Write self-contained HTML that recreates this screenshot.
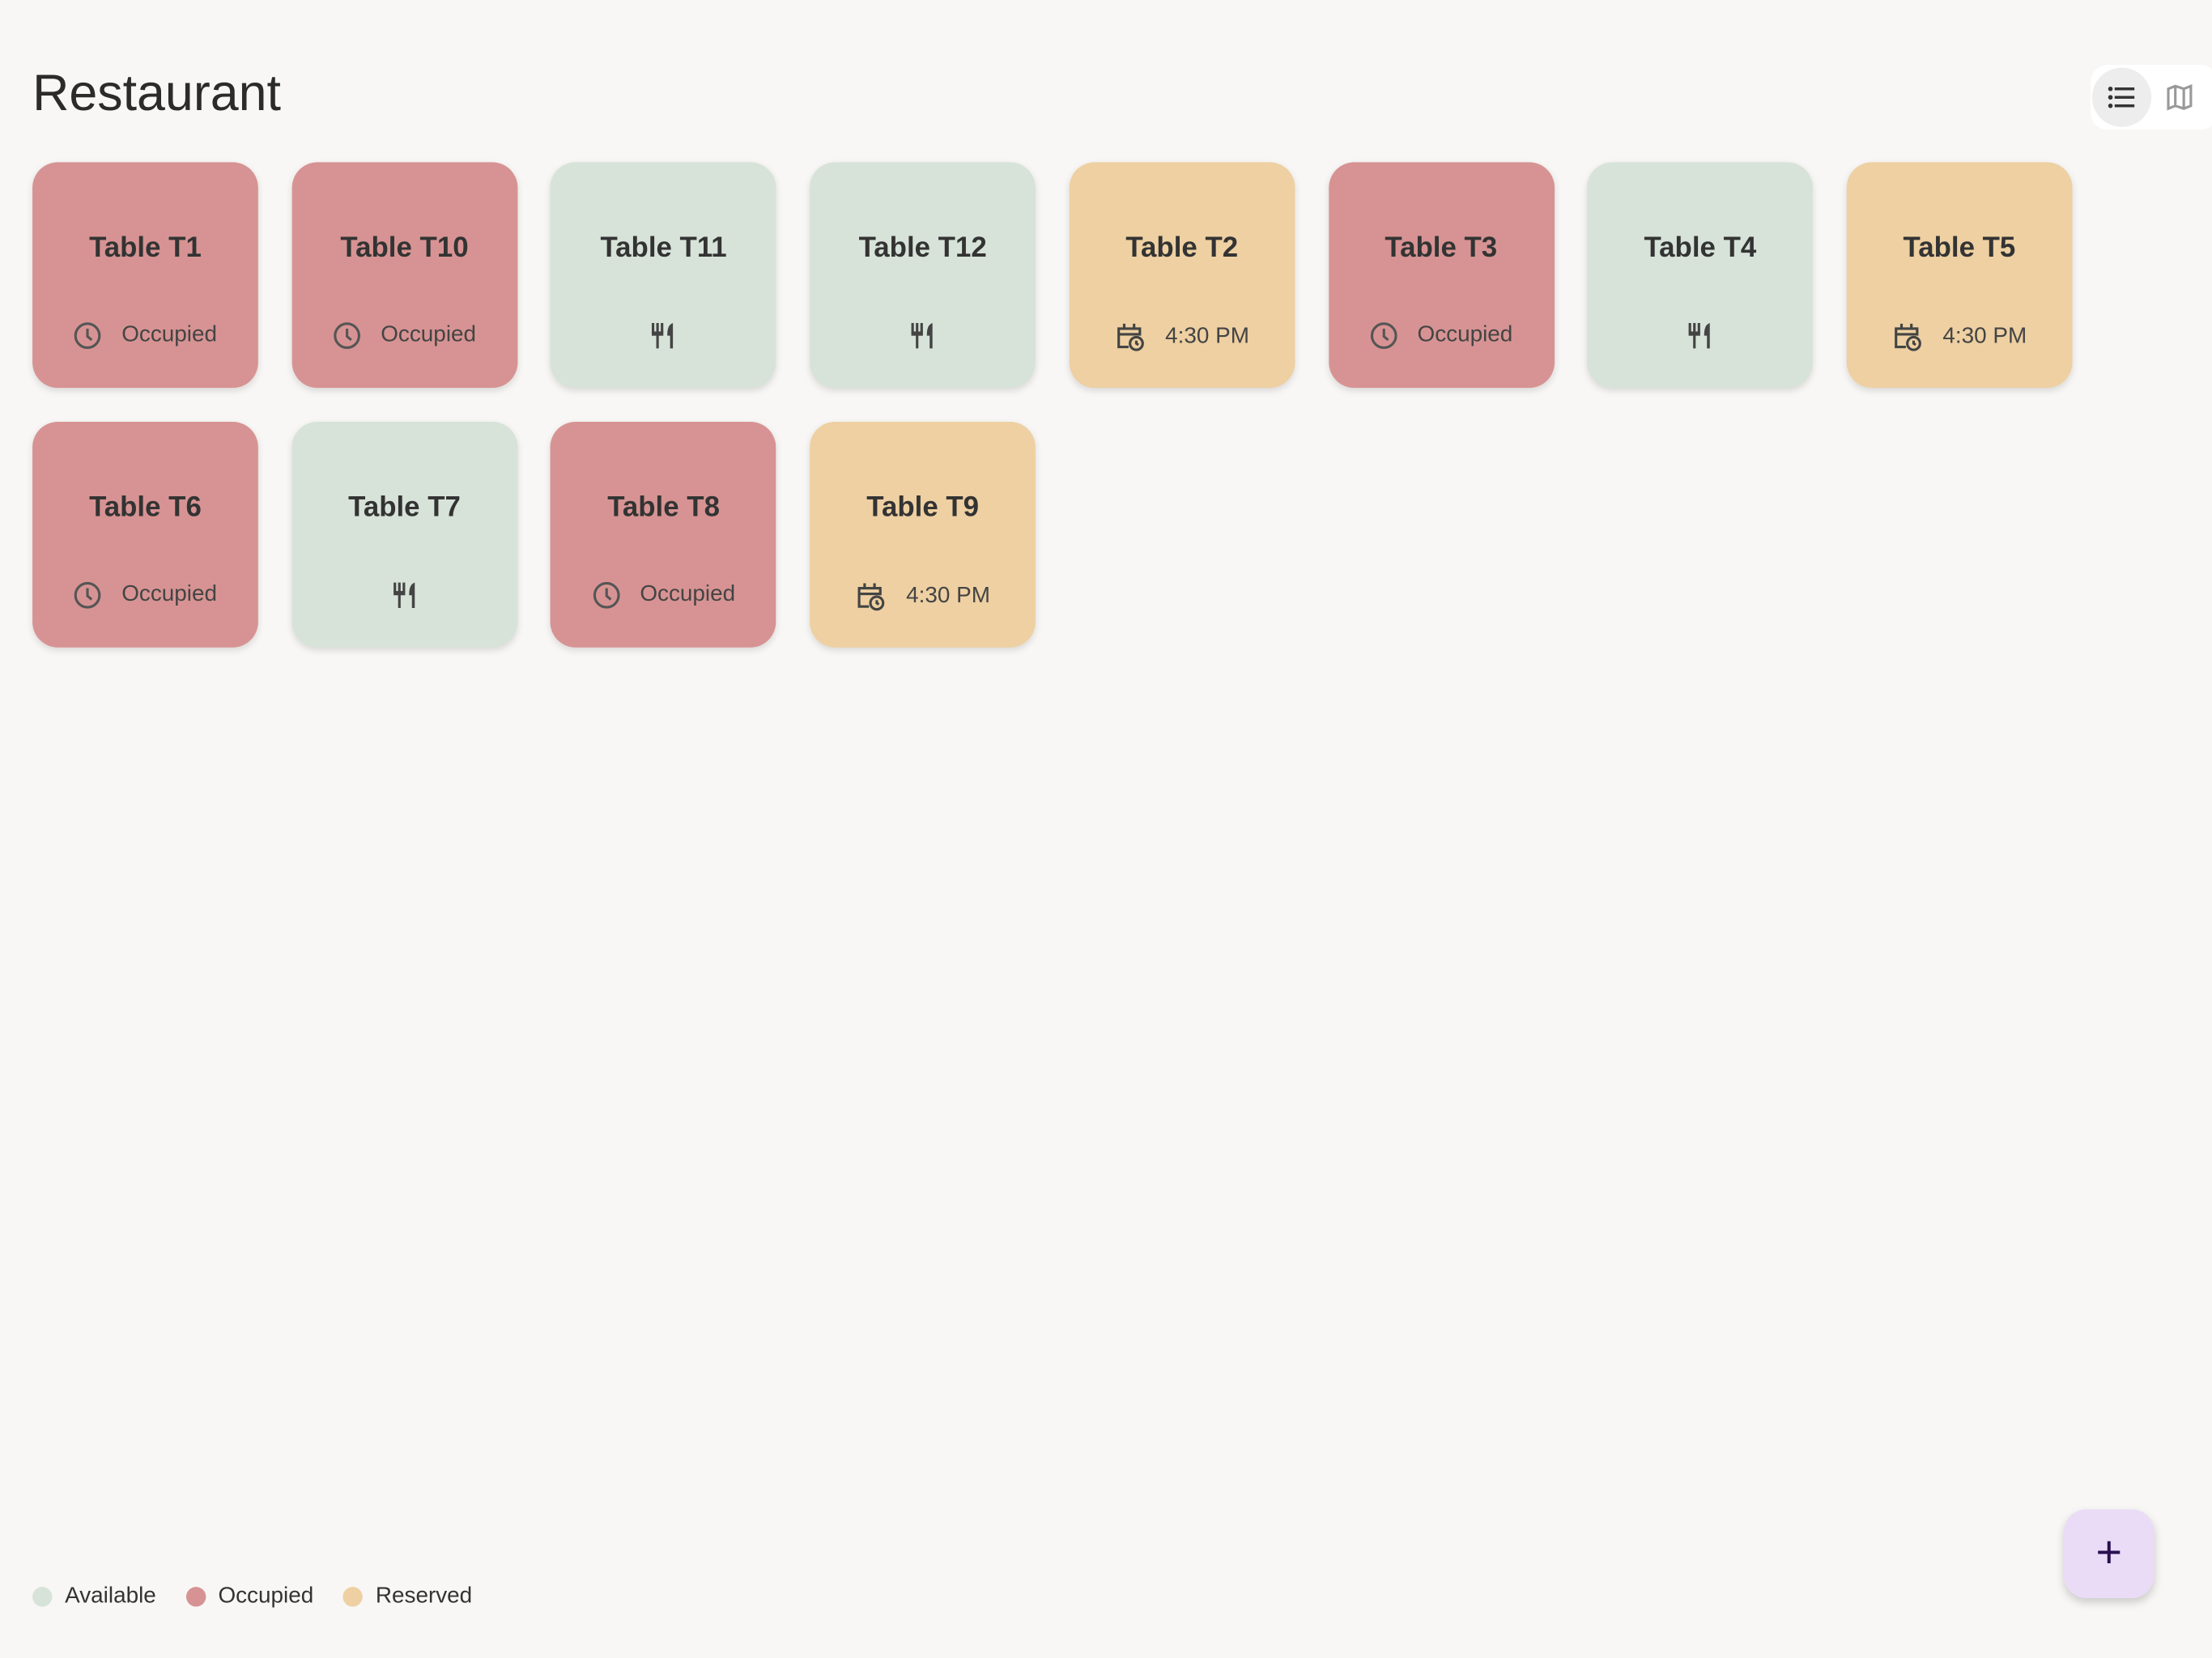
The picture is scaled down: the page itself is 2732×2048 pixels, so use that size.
<!DOCTYPE html>
<html><head><meta charset="utf-8"><style>
html,body{margin:0;padding:0;background:#f8f7f5;overflow:hidden}
#w{width:1568px;height:1175.5px;transform:scale(1.74235);transform-origin:0 0;position:relative;font-family:"Liberation Sans","DejaVu Sans",sans-serif;color:#333}
h1{position:absolute;left:23px;top:45px;margin:0;font-weight:400;font-size:36px;color:#2b2b2b}
.c{position:absolute;width:160px;height:160px;border-radius:18px;box-shadow:0 2px 5px rgba(0,0,0,.12)}
.t{position:absolute;top:50px;width:100%;text-align:center;font-size:20px;font-weight:600;color:#333}
.s{position:absolute;top:113px;width:100%;display:flex;justify-content:center;align-items:center;gap:14px;font-size:16px;color:#444}
.r{background:#d79393}.g{background:#d7e3d8}.y{background:#eed0a2}
.lg{position:absolute;top:1123px;left:23px;display:flex;gap:21px;font-size:16px;color:#333;align-items:center}
.lg span{display:flex;align-items:center;gap:9px}
.lg i{display:inline-block;width:14px;height:14px;border-radius:50%}
</style></head><body><div id="w">
<h1>Restaurant</h1>
<div style="position:absolute;left:1482px;top:46px;width:90px;height:46px;background:#fff;border-radius:12px">
<div style="position:absolute;left:1px;top:2px;width:42px;height:42px;border-radius:50%;background:#ededed"></div>
<svg style="position:absolute;left:11px;top:13px" width="22" height="20" viewBox="0 0 22 20"><g fill="#333"><circle cx="3" cy="4" r="1.6"/><circle cx="3" cy="10" r="1.6"/><circle cx="3" cy="16" r="1.6"/><rect x="6" y="3" width="14" height="2"/><rect x="6" y="9" width="14" height="2"/><rect x="6" y="15" width="14" height="2"/></g></svg>
<svg style="position:absolute;left:54px;top:13px" width="18" height="20" viewBox="0 0 18 20"><path d="M1 4 6 2 12 4 17 2V16L12 18 6 16 1 18Z M6 2V16 M12 4V18" fill="none" stroke="#999" stroke-width="1.8"/></svg>
</div>
<div id="cards"></div>
<div class="lg"><span><i style="background:#d7e3d8"></i>Available</span><span><i style="background:#d79393"></i>Occupied</span><span><i style="background:#eed0a2"></i>Reserved</span></div>
<div style="position:absolute;left:1463px;top:1070px;width:64px;height:63px;border-radius:16px;background:#eadcf7;box-shadow:0 3px 6px rgba(0,0,0,.18);text-align:center;line-height:60px;font-size:32px;color:#2a1050">+</div>
</div>
<script>
var clock='<svg width="20" height="20" viewBox="0 0 20 20"><circle cx="10" cy="10" r="8.5" fill="none" stroke="#555" stroke-width="1.8"/><path d="M10 5V10.5L13 13" fill="none" stroke="#555" stroke-width="1.8"/></svg>';
var fork='<svg width="20" height="20" viewBox="0 0 20 20"><g fill="#444"><rect x="2" y="1" width="1.8" height="7"/><rect x="5.2" y="1" width="1.8" height="7"/><rect x="8.4" y="1" width="1.8" height="7"/><rect x="2" y="7" width="8.2" height="3"/><rect x="5.2" y="9" width="1.8" height="10"/><path d="M17 1C14 2 13 5 13 10H15V19H17Z"/></g></svg>';
var cal='<svg width="22" height="22" viewBox="0 0 22 22"><g fill="none" stroke="#444" stroke-width="1.8"><path d="M10 18H3V5H18V10"/><path d="M3 9H18"/><circle cx="15.5" cy="15.5" r="4.5"/><path d="M15.5 13.5V15.5L17 16.5"/></g><rect x="6" y="1.5" width="1.8" height="4" fill="#444"/><rect x="13" y="1.5" width="1.8" height="4" fill="#444"/></svg>';
var d=[["T1","r"],["T10","r"],["T11","g"],["T12","g"],["T2","y"],["T3","r"],["T4","g"],["T5","y"],["T6","r"],["T7","g"],["T8","r"],["T9","y"]];
var h='';
d.forEach(function(e,i){var col=i%8,row=Math.floor(i/8);var x=23+col*183.7,y=115+row*183.5;
var s=e[1]=='r'?clock+'<span>Occupied</span>':e[1]=='g'?fork:cal+'<span>4:30 PM</span>';
h+='<div class="c '+e[1]+'" style="left:'+x+'px;top:'+y+'px"><div class="t">Table '+e[0]+'</div><div class="s">'+s+'</div></div>';});
document.getElementById('cards').innerHTML=h;
</script>
</body></html>
